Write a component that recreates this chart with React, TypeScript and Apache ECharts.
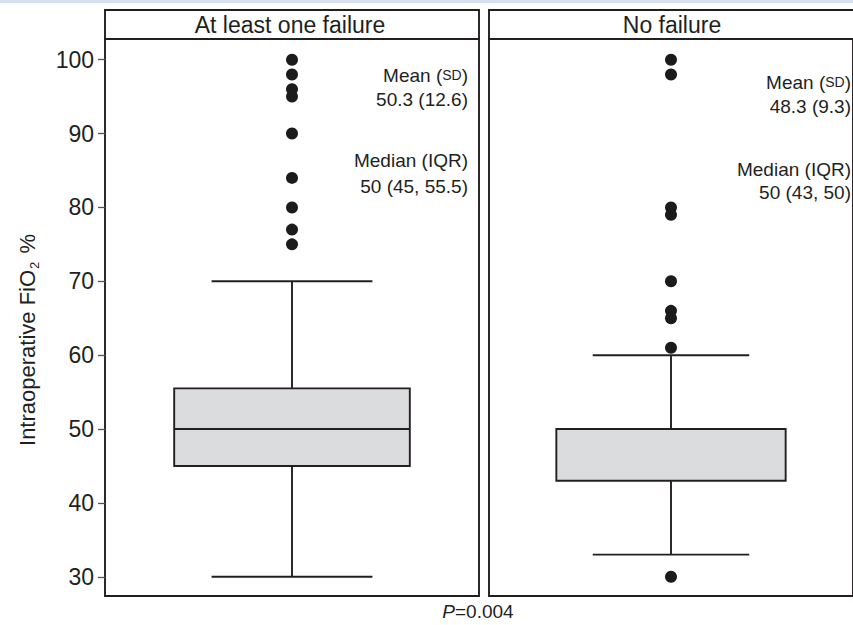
import React, { useEffect, useRef } from "react";
import * as echarts from "echarts";

// ---- data ----
const categories = ["At least one failure", "No failure"];
// [whiskerLow, q1, median, q3, whiskerHigh]
const boxLeft = [30, 45, 50, 55.5, 70];
const boxRight = [33, 43, 50, 50, 60];
const outliersLeft = [100, 98, 96, 95, 90, 84, 80, 77, 75];
const outliersRight = [100, 98, 80, 79, 70, 66, 65, 61, 30];
const yTicks = [30, 40, 50, 60, 70, 80, 90, 100];
const meanSdLeft = "50.3 (12.6)";
const medianIqrLeft = "50 (45, 55.5)";
const meanSdRight = "48.3 (9.3)";
const medianIqrRight = "50 (43, 50)";
const pValue = "=0.004";

const INK = "#231f20";
const FONT = "'Liberation Sans', Arial, Helvetica, sans-serif";

function boxRender(params: any, api: any) {
  const x = api.value(0);
  const lo = api.coord([x, api.value(1)]);
  const q1 = api.coord([x, api.value(2)]);
  const md = api.coord([x, api.value(3)]);
  const q3 = api.coord([x, api.value(4)]);
  const hi = api.coord([x, api.value(5)]);
  const band = api.size([1, 0])[0];
  const bw = band * 0.63;
  const cw = band * 0.43;
  const cx = lo[0];
  const ls = { stroke: INK, lineWidth: 1.9 };
  return {
    type: "group",
    children: [
      { type: "line", shape: { x1: cx, y1: hi[1], x2: cx, y2: q3[1] }, style: ls },
      { type: "line", shape: { x1: cx, y1: q1[1], x2: cx, y2: lo[1] }, style: ls },
      { type: "line", shape: { x1: cx - cw / 2, y1: hi[1], x2: cx + cw / 2, y2: hi[1] }, style: ls },
      { type: "line", shape: { x1: cx - cw / 2, y1: lo[1], x2: cx + cw / 2, y2: lo[1] }, style: ls },
      {
        type: "rect",
        shape: { x: cx - bw / 2, y: q3[1], width: bw, height: q1[1] - q3[1] },
        style: { fill: "#dbdcde", stroke: INK, lineWidth: 1.9 },
      },
      { type: "line", shape: { x1: cx - bw / 2, y1: md[1], x2: cx + bw / 2, y2: md[1] }, style: { stroke: INK, lineWidth: 2 } },
    ],
  };
}

export default function App() {
  const ref = useRef<HTMLDivElement>(null);
  useEffect(() => {
    if (!ref.current) return;
    const chart = echarts.init(ref.current, null, { renderer: "svg" });
    const yMin = 27.4;
    const yMax = 102.8;
    const gridTop = 39;
    const gridH = 557;
    const yAxisBase = (idx: number, showLabels: boolean) => ({
      type: "value",
      gridIndex: idx,
      min: yMin,
      max: yMax,
      splitLine: { show: false },
      axisLine: { show: false },
      axisTick: {
        show: showLabels,
        customValues: yTicks,
        length: 7,
        lineStyle: { color: "#555", width: 1.3 },
      },
      axisLabel: {
        show: showLabels,
        customValues: yTicks,
        fontSize: 23,
        fontFamily: FONT,
        color: INK,
        margin: 11,
      },
    });
    const option: any = {
      animation: false,
      grid: [
        { left: 105, top: gridTop, width: 374, height: gridH, show: true, borderColor: INK, borderWidth: 1.9, backgroundColor: "#fff" },
        { left: 489, top: gridTop, width: 367, height: gridH, show: true, borderColor: INK, borderWidth: 1.9, backgroundColor: "#fff" },
      ],
      xAxis: [
        { type: "category", gridIndex: 0, data: [categories[0]], axisLine: { show: false }, axisTick: { show: false }, axisLabel: { show: false } },
        { type: "category", gridIndex: 1, data: [categories[1]], axisLine: { show: false }, axisTick: { show: false }, axisLabel: { show: false } },
      ],
      yAxis: [yAxisBase(0, true), yAxisBase(1, false)],
      series: [
        {
          type: "custom",
          xAxisIndex: 0,
          yAxisIndex: 0,
          renderItem: boxRender,
          encode: { x: 0, y: [1, 2, 3, 4, 5] },
          data: [[0, ...boxLeft]],
          z: 2,
        },
        {
          type: "custom",
          xAxisIndex: 1,
          yAxisIndex: 1,
          renderItem: boxRender,
          encode: { x: 0, y: [1, 2, 3, 4, 5] },
          data: [[0, ...boxRight]],
          z: 2,
        },
        {
          type: "scatter",
          xAxisIndex: 0,
          yAxisIndex: 0,
          symbolSize: 12,
          itemStyle: { color: "#1c1a1b", opacity: 1 },
          data: outliersLeft.map((v) => [0, v]),
          z: 3,
        },
        {
          type: "scatter",
          xAxisIndex: 1,
          yAxisIndex: 1,
          symbolSize: 12,
          itemStyle: { color: "#1c1a1b", opacity: 1 },
          data: outliersRight.map((v) => [0, v]),
          z: 3,
        },
      ],
      graphic: [
        { type: "rect", shape: { x: 0, y: 0, width: 853, height: 3 }, style: { fill: "#d6e0f0" } },
        { type: "rect", shape: { x: 105, y: 10, width: 374, height: 29 }, style: { fill: "#fff", stroke: INK, lineWidth: 1.9 } },
        { type: "rect", shape: { x: 489, y: 10, width: 367, height: 29 }, style: { fill: "#fff", stroke: INK, lineWidth: 1.9 } },
        {
          type: "text", x: 290, y: 25,
          style: { text: categories[0], fontSize: 23, fontFamily: FONT, fill: INK, align: "center", verticalAlign: "middle" },
        },
        {
          type: "text", x: 672, y: 25,
          style: { text: categories[1], fontSize: 23, fontFamily: FONT, fill: INK, align: "center", verticalAlign: "middle" },
        },
        {
          type: "text", x: 27, y: 340, rotation: Math.PI / 2,
          style: {
            text: "{a|Intraoperative FiO}{s|2}{a| %}",
            align: "center",
            verticalAlign: "middle",
            rich: {
              a: { fontSize: 22, fontFamily: FONT, fill: INK, lineHeight: 26 },
              s: { fontSize: 13, fontFamily: FONT, fill: INK, lineHeight: 26, padding: [14, 2, 0, 1] },
            },
          },
        },
        {
          type: "text", x: 468, y: 63,
          style: {
            text: "{a|Mean (}{b|SD}{a|)}\n{a|" + meanSdLeft + "}",
            align: "right",
            rich: {
              a: { fontSize: 19, fontFamily: FONT, fill: INK, lineHeight: 24, align: "right" },
              b: { fontSize: 14, fontFamily: FONT, fill: INK, lineHeight: 24 },
            },
          },
        },
        {
          type: "text", x: 468, y: 147,
          style: {
            text: "Median (IQR)\n" + medianIqrLeft,
            align: "right",
            fontSize: 19, fontFamily: FONT, fill: INK, lineHeight: 26,
          },
        },
        {
          type: "text", x: 851, y: 70,
          style: {
            text: "{a|Mean (}{b|SD}{a|)}\n{a|" + meanSdRight + "}",
            align: "right",
            rich: {
              a: { fontSize: 19, fontFamily: FONT, fill: INK, lineHeight: 24, align: "right" },
              b: { fontSize: 14, fontFamily: FONT, fill: INK, lineHeight: 24 },
            },
          },
        },
        {
          type: "text", x: 851, y: 158,
          style: {
            text: "Median (IQR)\n" + medianIqrRight,
            align: "right",
            fontSize: 19, fontFamily: FONT, fill: INK, lineHeight: 23,
          },
        },
        {
          type: "text", x: 478, y: 611,
          style: {
            text: "{i|P}{n|" + pValue + "}",
            align: "center",
            verticalAlign: "middle",
            rich: {
              i: { fontSize: 19, fontFamily: FONT, fill: INK, fontStyle: "italic" },
              n: { fontSize: 19, fontFamily: FONT, fill: INK },
            },
          },
        },
      ],
    };
    chart.setOption(option);
    return () => chart.dispose();
  }, []);
  return (
    <div
      ref={ref}
      style={{ position: "absolute", left: 0, top: 0, width: 853, height: 625, background: "#fff" }}
    />
  );
}
